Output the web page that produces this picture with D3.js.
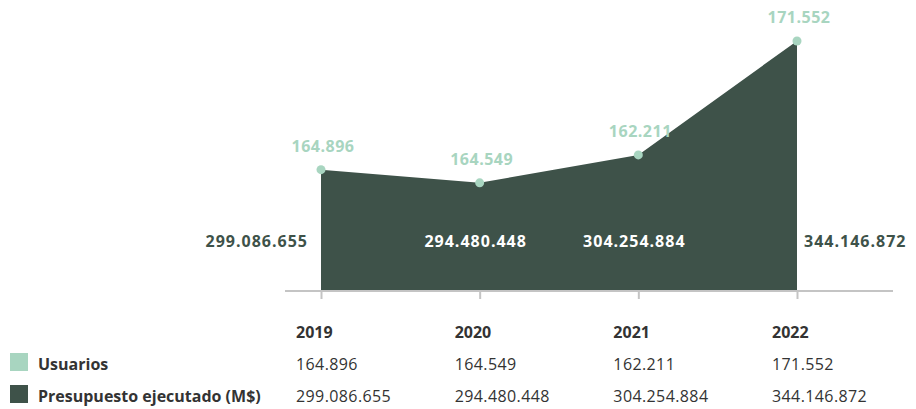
<!DOCTYPE html>
<html>
<head>
<meta charset="utf-8">
<script src="https://cdn.jsdelivr.net/npm/d3@7"></script>
<style>
  body { margin: 0; background: #fff; }
  text { font-family: "Open Sans", sans-serif; }
</style>
</head>
<body>
<div class="chart"></div>
<script>
const years = ['2019', '2020', '2021', '2022'];
const usuarios = [164896, 164549, 162211, 171552];
const presupuesto = [299086655, 294480448, 304254884, 344146872];
const seriesNames = ['Usuarios', 'Presupuesto ejecutado (M$)'];

const width = 916, height = 409;
const dark = '#3e5249', light = '#a8d5c0', ink = '#333';

const fmt = d3.formatLocale({decimal: ',', thousands: '.', grouping: [3], currency: ['$', '']}).format(',d');

const data = years.map((y, i) => ({year: y, users: usuarios[i], budget: presupuesto[i]}));

const svg = d3.select('.chart')
  .append('svg')
  .attr('width', width)
  .attr('height', height);

const xScale = d3.scalePoint()
  .domain(years)
  .range([321, 797]);

const yScale = d3.scaleLinear()
  .domain([256.6e6, 358.5e6])
  .range([291, 0]);

const area = d3.area()
  .x(d => xScale(d.year))
  .y0(yScale.range()[0])
  .y1(d => yScale(d.budget));

svg.append('path')
  .datum(data)
  .attr('fill', dark)
  .attr('d', area);

// axis along the bottom of the area
const xAxis = d3.axisBottom(xScale)
  .tickSize(8)
  .tickFormat('');

svg.append('g')
  .attr('transform', `translate(0, ${yScale.range()[0]})`)
  .call(xAxis)
  .call(g => g.select('.domain').remove())
  .call(g => g.selectAll('.tick line').attr('stroke', '#c4c4c4').attr('stroke-width', 2))
  .call(g => g.append('line')
    .attr('x1', 285).attr('x2', 893)
    .attr('stroke', '#c4c4c4').attr('stroke-width', 2));

// user points + labels
svg.selectAll('.pt')
  .data(data)
  .join('circle')
  .attr('class', 'pt')
  .attr('cx', d => xScale(d.year))
  .attr('cy', d => yScale(d.budget))
  .attr('r', 4.5)
  .attr('fill', light);

svg.selectAll('.ulabel')
  .data(data)
  .join('text')
  .attr('class', 'ulabel')
  .attr('x', d => xScale(d.year) + 2)
  .attr('y', d => yScale(d.budget) - 18)
  .attr('text-anchor', 'middle')
  .attr('font-size', 16)
  .attr('font-weight', 700)
  .attr('letter-spacing', 0.5)
  .attr('fill', light)
  .text(d => fmt(d.users));

// budget labels
const last = years.length - 1;
svg.selectAll('.blabel')
  .data(data)
  .join('text')
  .attr('class', 'blabel')
  .attr('x', (d, i) => i === 0 ? xScale(d.year) - 13 : i === last ? xScale(d.year) + 7 : xScale(d.year) - 4)
  .attr('y', 247)
  .attr('text-anchor', (d, i) => i === 0 ? 'end' : i === last ? 'start' : 'middle')
  .attr('font-size', 16)
  .attr('font-weight', 700)
  .attr('letter-spacing', 1)
  .attr('fill', (d, i) => (i === 0 || i === last) ? dark : '#fff')
  .text(d => fmt(d.budget));

// table below
const table = svg.append('g');

table.selectAll('.yr')
  .data(years)
  .join('text')
  .attr('x', d => xScale(d) - 25)
  .attr('y', 338)
  .attr('font-size', 16)
  .attr('font-weight', 700)
  .attr('fill', ink)
  .text(d => d);

const rows = [
  {name: seriesNames[0], color: light, values: usuarios, y: 370},
  {name: seriesNames[1], color: dark, values: presupuesto, y: 402}
];

rows.forEach(r => {
  table.append('rect')
    .attr('x', 10).attr('y', r.y - 17)
    .attr('width', 18).attr('height', 18)
    .attr('fill', r.color);
  table.append('text')
    .attr('x', 38).attr('y', r.y)
    .attr('font-size', 16)
    .attr('font-weight', 700)
    .attr('fill', ink)
    .text(r.name);
  table.selectAll(null)
    .data(r.values)
    .join('text')
    .attr('x', (d, i) => xScale(years[i]) - 25)
    .attr('y', r.y)
    .attr('font-size', 16)
    .attr('letter-spacing', 0.4)
    .attr('fill', ink)
    .text(d => fmt(d));
});
</script>
</body>
</html>
